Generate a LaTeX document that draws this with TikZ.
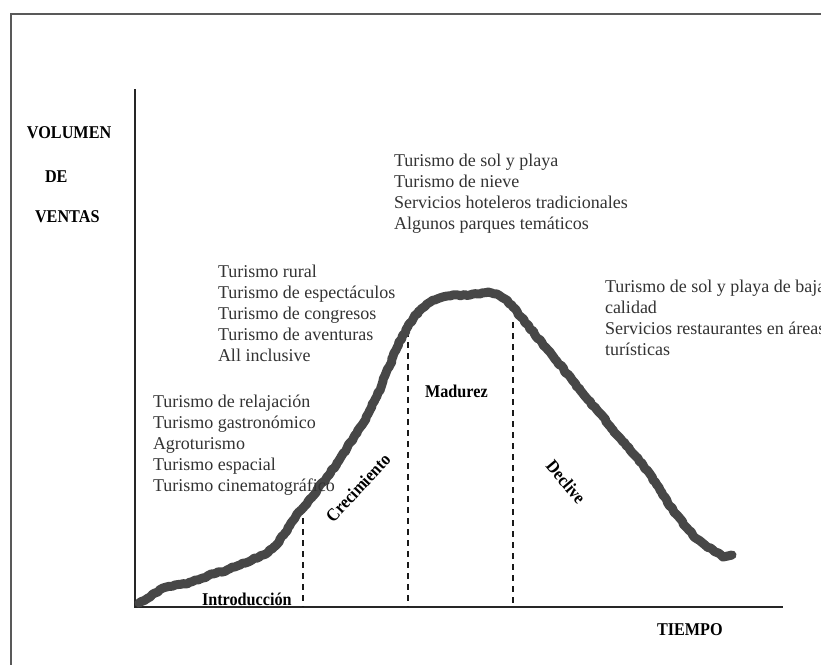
\documentclass[tikz,border=0pt]{standalone}
\usepackage{fontspec}
\setmainfont{Liberation Serif}
\usepackage{graphicx}
\usetikzlibrary{decorations.pathmorphing}
% condensed bold labels
\newcommand\condlabel[1]{\scalebox{0.9}[1]{\textbf{#1}}}
\begin{document}
\begin{tikzpicture}[x=1pt,y=-1pt,
  every node/.style={inner sep=0pt, outer sep=0pt},
  listtext/.style={anchor=north west, align=left, text=black!80,
    font=\fontsize{18}{21}\selectfont},
  phase/.style={font=\fontsize{18}{21}\selectfont, text=black},
  frameline/.style={line width=1.6pt, draw=black!65},
  axisline/.style={line width=2pt, draw=black!85},
  divider/.style={line width=2pt, dash pattern=on 6pt off 5pt, draw=black!90},
  salescurve/.style={line width=9pt, draw=black!72, line cap=round, line join=round},
]
\useasboundingbox (0,0) rectangle (821,664);
\clip (0,0) rectangle (821,664);
\fill[white] (0,0) rectangle (821,664);

% outer frame (runs past the right and bottom edges)
\draw[frameline] (11,14) rectangle (840,690);

% axes
\coordinate (origin) at (135,607);
\coordinate (ytop) at (135,89);
\coordinate (xend) at (783,607);
\draw[axisline] (ytop) -- (origin) -- (xend);

% axis titles
\node[phase, anchor=base west] (vol) at (27,138) {\condlabel{VOLUMEN}};
\node[phase, anchor=base west] (de) at (45,182) {\condlabel{DE}};
\node[phase, anchor=base west] (ventas) at (35,222) {\condlabel{VENTAS}};
\node[phase, anchor=base west] (tiempo) at (657,635) {\condlabel{TIEMPO}};

% phase dividers
\coordinate (d1top) at (303,507);
\coordinate (d1bot) at (303,607);
\coordinate (d2top) at (408,320);
\coordinate (d2bot) at (408,607);
\coordinate (d3top) at (513,322);
\coordinate (d3bot) at (513,607);
\draw[divider] (d1top) -- (d1bot);
\draw[divider] (d2top) -- (d2bot);
\draw[divider] (d3top) -- (d3bot);

% product life cycle curve, hand-drawn look
\pgfmathsetseed{7}
\draw[salescurve, decorate, decoration={random steps, segment length=3pt, amplitude=0.8pt}]
  (139,603) -- (150,597) -- (163,588) -- (175,585) -- (187,584) -- (200,579)
  -- (213,574) -- (227,570) -- (240,565) -- (252,560) -- (263,555) -- (272,549)
  -- (279,542) -- (285,533) -- (291,523) -- (297,514) -- (303,508) -- (310,499)
  -- (317,490) -- (327,477) -- (337,463) -- (347,448) -- (357,433) -- (364,422)
  -- (370,410) -- (377,396) -- (383,381) -- (390,365) -- (396,350) -- (403,335)
  -- (410,323) -- (418,312) -- (427,304) -- (437,299) -- (447,296) -- (458,295)
  -- (470,295) -- (480,294) -- (488,292) -- (497,294) -- (505,299) -- (513,307)
  -- (521,317) -- (534,333) -- (548,350) -- (564,370) -- (580,390) -- (597,410)
  -- (613,430) -- (630,450) -- (647,470) -- (660,490) -- (673,510) -- (685,526)
  -- (697,539) -- (705,545) -- (713,550) -- (723,557) -- (732,555);

% phase names
\node[phase, anchor=base west] (intro) at (202,605) {\condlabel{Introducción}};
\node[phase, rotate=47] (crec) at (358,488) {\condlabel{Crecimiento}};
\node[phase, anchor=base west] (madurez) at (425,397) {\condlabel{Madurez}};
\node[phase, rotate=-50] (declive) at (566,482) {\condlabel{Declive}};

% product lists
\node[listtext] (listmad) at (394,154.5) {Turismo de sol y playa\\Turismo de nieve\\Servicios hoteleros tradicionales\\Algunos parques temáticos};
\node[listtext] (listcrec) at (218,265.5) {Turismo rural\\Turismo de espectáculos\\Turismo de congresos\\Turismo de aventuras\\All inclusive};
\node[listtext] (listintro) at (153,394.5) {Turismo de relajación\\Turismo gastronómico\\Agroturismo\\Turismo espacial\\Turismo cinematográfico};
\node[listtext] (listdecl) at (605,280.5) {Turismo de sol y playa de baja\\calidad\\Servicios restaurantes en áreas\\turísticas};
\end{tikzpicture}
\end{document}
